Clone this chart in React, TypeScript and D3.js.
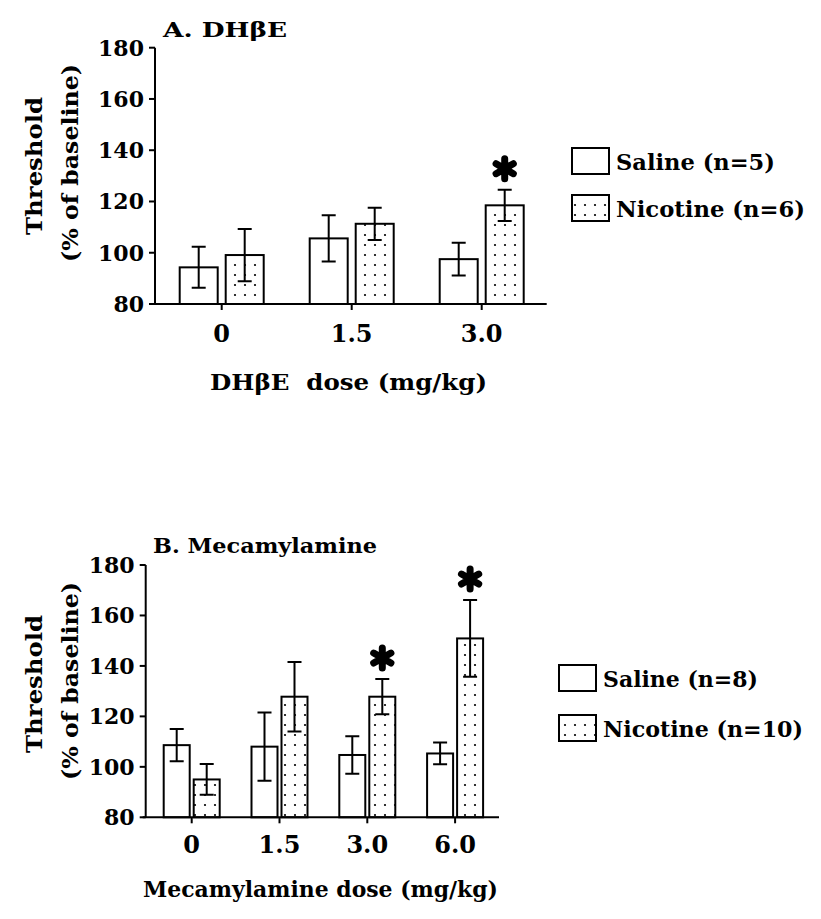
import React from "react"
import * as d3 from "d3"

// values (% of baseline, mean and SEM)
const yTicks = [80, 100, 120, 140, 160, 180]

const dosesA = ["0", "1.5", "3.0"]
const salineA = [94.3, 105.6, 97.5]
const salineSemA = [8.0, 9.0, 6.4]
const nicotineA = [99.1, 111.3, 118.5]
const nicotineSemA = [10.2, 6.3, 6.1]
const starsA = [false, false, true]

const dosesB = ["0", "1.5", "3.0", "6.0"]
const salineB = [108.6, 108.0, 104.7, 105.3]
const salineSemB = [6.4, 13.5, 7.4, 4.3]
const nicotineB = [95.0, 127.8, 127.8, 150.9]
const nicotineSemB = [6.1, 13.8, 7.0, 15.2]
const starsB = [false, false, true, true]

const font = "'DejaVu Serif', 'Liberation Serif', serif"

type PanelProps = {
  title: string
  xTitle: string
  doses: string[]
  saline: number[]
  salineSem: number[]
  nicotine: number[]
  nicotineSem: number[]
  stars: boolean[]
  legend: string[]
  // layout
  axisX: number
  top: number
  bottom: number
  bandStart: number
  step: number
  barW: number
  offset: number
  titleX: number
  titleY: number
  titleLen: number
  xTickY: number
  xTitleX: number
  xTitleY: number
  xTitleLen: number
  yTitleY: number
  legX: number
  legY: number[]
  legTextX: number
  legTextLen: number[]
}

function Panel(p: PanelProps) {
  const y = d3.scaleLinear().domain([80, 180]).range([p.bottom, p.top])
  const x = d3
    .scaleBand<string>()
    .domain(p.doses)
    .range([p.bandStart, p.bandStart + p.step * p.doses.length])
  const cx = (d: string) => (x(d) ?? 0) + x.bandwidth() / 2
  const cap = 7

  const bar = (d: string, v: number, sem: number, dx: number, fill: string) => {
    const c = cx(d) + dx
    return (
      <g key={d + dx}>
        <rect x={c - p.barW / 2} y={y(v)} width={p.barW} height={y(80) - y(v)}
          fill={fill} stroke="#000" strokeWidth={2} />
        <path d={`M${c},${y(v + sem)}V${y(v - sem)}M${c - cap},${y(v + sem)}H${c + cap}M${c - cap},${y(v - sem)}H${c + cap}`}
          stroke="#000" strokeWidth={2} fill="none" />
      </g>
    )
  }

  const star = d3.symbol(d3.symbolAsterisk, 280)()

  return (
    <g>
      <text x={p.titleX} y={p.titleY} fontFamily={font} fontWeight="bold" fontSize={20}
        textLength={p.titleLen} lengthAdjust="spacingAndGlyphs">{p.title}</text>

      {/* y axis */}
      <line x1={p.axisX} x2={p.axisX} y1={y(180)} y2={y(80)} stroke="#000" strokeWidth={2} />
      {yTicks.map(t => (
        <g key={t}>
          <line x1={p.axisX - 6} x2={p.axisX} y1={y(t)} y2={y(t)} stroke="#000" strokeWidth={2} />
          <text x={p.axisX - 11} y={y(t)} dy="0.36em" textAnchor="end" fontFamily={font}
            fontWeight="bold" fontSize={22}>{t}</text>
        </g>
      ))}
      <g transform={`translate(42,${p.yTitleY}) rotate(-90)`}>
        <text textAnchor="middle" fontFamily={font} fontWeight="bold" fontSize={22}
          textLength={138} lengthAdjust="spacingAndGlyphs">Threshold</text>
      </g>
      <g transform={`translate(78,${p.yTitleY - 3}) rotate(-90)`}>
        <text textAnchor="middle" fontFamily={font} fontWeight="bold" fontSize={22}
          textLength={198} lengthAdjust="spacingAndGlyphs">(% of baseline)</text>
      </g>

      {/* bars */}
      {p.doses.map((d, i) => bar(d, p.saline[i], p.salineSem[i], -p.offset, "#fff"))}
      {p.doses.map((d, i) => bar(d, p.nicotine[i], p.nicotineSem[i], p.offset, "url(#dots)"))}
      {p.doses.map((d, i) =>
        p.stars[i] ? (
          <path key={"s" + d} d={star ?? ""}
            transform={`translate(${cx(d) + p.offset},${y(p.nicotine[i] + p.nicotineSem[i]) - 21})`}
            stroke="#000" strokeWidth={7} strokeLinecap="round" fill="none" />
        ) : null
      )}

      {/* x axis */}
      <line x1={p.axisX - 3} x2={p.bandStart + p.step * p.doses.length} y1={y(80)} y2={y(80)}
        stroke="#000" strokeWidth={2} />
      {p.doses.map(d => (
        <g key={"t" + d}>
          <line x1={cx(d)} x2={cx(d)} y1={y(80)} y2={y(80) + 6} stroke="#000" strokeWidth={2} />
          <text x={cx(d)} y={p.xTickY} textAnchor="middle" fontFamily={font} fontWeight="bold"
            fontSize={24}>{d}</text>
        </g>
      ))}
      <text x={p.xTitleX} y={p.xTitleY} fontFamily={font} fontWeight="bold" fontSize={23}
        textLength={p.xTitleLen} lengthAdjust="spacingAndGlyphs" style={{ whiteSpace: "pre" }}>{p.xTitle}</text>

      {/* legend */}
      {p.legend.map((l, i) => (
        <g key={l}>
          <rect x={p.legX} y={p.legY[i]} width={37} height={26} fill={i === 0 ? "#fff" : "url(#dots)"}
            stroke="#000" strokeWidth={2} />
          <text x={p.legTextX} y={p.legY[i] + 22} fontFamily={font} fontWeight="bold" fontSize={22}
            textLength={p.legTextLen[i]} lengthAdjust="spacingAndGlyphs">{l}</text>
        </g>
      ))}
    </g>
  )
}

export default function App() {
  return (
    <svg width={821} height={919} style={{ position: "absolute", left: 0, top: 0, background: "#fff" }}>
      <defs>
        <pattern id="dots" width={10} height={10} patternUnits="userSpaceOnUse">
          <rect width={10} height={10} fill="#fff" />
          <circle cx={5} cy={5} r={1.1} fill="#000" />
        </pattern>
      </defs>
      <Panel
        title="A. DHβE" xTitle="DHβE  dose (mg/kg)"
        doses={dosesA} saline={salineA} salineSem={salineSemA}
        nicotine={nicotineA} nicotineSem={nicotineSemA} stars={starsA}
        legend={["Saline (n=5)", "Nicotine (n=6)"]}
        axisX={155} top={47.7} bottom={304} bandStart={156.7} step={130}
        barW={38} offset={23}
        titleX={163} titleY={37} titleLen={124}
        xTickY={342} xTitleX={210} xTitleY={390} xTitleLen={277}
        yTitleY={166}
        legX={572} legY={[148, 195]} legTextX={616} legTextLen={[159, 189]}
      />
      <Panel
        title="B. Mecamylamine" xTitle="Mecamylamine dose (mg/kg)"
        doses={dosesB} saline={salineB} salineSem={salineSemB}
        nicotine={nicotineB} nicotineSem={nicotineSemB} stars={starsB}
        legend={["Saline (n=8)", "Nicotine (n=10)"]}
        axisX={145.7} top={565} bottom={817.3} bandStart={147.8} step={87.8}
        barW={26} offset={15}
        titleX={153} titleY={553} titleLen={224}
        xTickY={853} xTitleX={143} xTitleY={897} xTitleLen={355}
        yTitleY={684}
        legX={559} legY={[665, 715]} legTextX={603} legTextLen={[155, 200]}
      />
    </svg>
  )
}
